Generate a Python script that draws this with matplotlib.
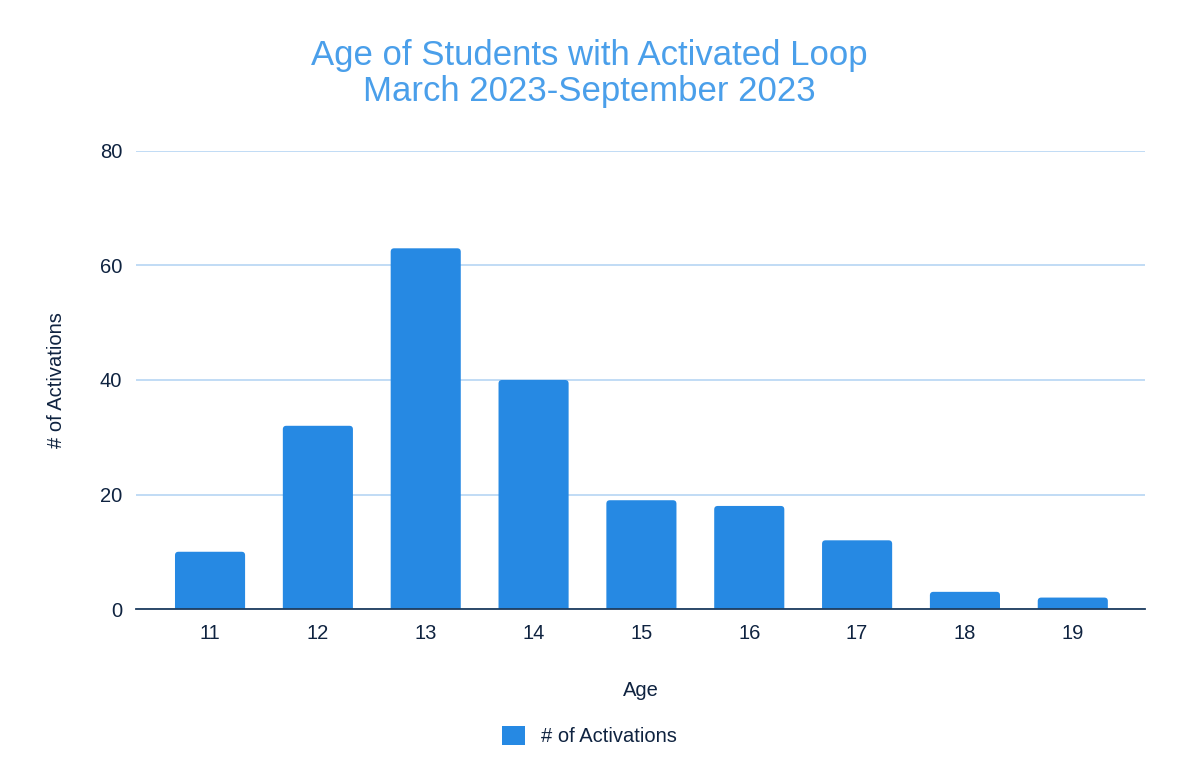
import matplotlib
matplotlib.use("Agg")
import matplotlib.pyplot as plt
from matplotlib.patches import FancyBboxPatch, Patch

ages = ["11", "12", "13", "14", "15", "16", "17", "18", "19"]
activations = [10, 32, 63, 40, 19, 18, 12, 3, 2]
y_ticks = [0, 20, 40, 60, 80]

title_color = "#4a9fea"
bar_color = "#2689e3"
text_color = "#0f2340"
grid_color = "#bcd9f4"

plt.rcParams["font.family"] = ["Liberation Sans", "DejaVu Sans"]

fig = plt.figure(figsize=(11.79, 7.83), dpi=100)
ax = fig.add_axes([0.1154, 0.2222, 0.9712 - 0.1154, 0.8072 - 0.2222])

x = list(range(len(ages)))
bars = ax.bar(x, activations, width=0.65, color=bar_color, zorder=3)

ax.set_xlim(-0.686, len(ages) - 1 + 0.67)
ax.set_ylim(0, 80)

# Replace the plain rectangles with slightly rounded ones (rounding kept
# circular in screen space by compensating for the axis aspect).
fig.canvas.draw()
bbox = ax.get_window_extent()
px_per_x = bbox.width / (ax.get_xlim()[1] - ax.get_xlim()[0])
px_per_y = bbox.height / (ax.get_ylim()[1] - ax.get_ylim()[0])
r_px = 3.5
for rect in bars:
    x0, w, h = rect.get_x(), rect.get_width(), rect.get_height()
    rect.set_visible(False)
    extra = 2 * r_px / px_per_y
    patch = FancyBboxPatch(
        (x0, -extra), w, h + extra,
        boxstyle=f"round,pad=0,rounding_size={r_px / px_per_x}",
        mutation_aspect=px_per_x / px_per_y,
        facecolor=bar_color, edgecolor="none", zorder=3, clip_on=True,
    )
    ax.add_patch(patch)

ax.set_yticks(y_ticks)
ax.set_xticks(x)
ax.set_xticklabels(ages)
ax.yaxis.grid(True, color=grid_color, linewidth=1.3, zorder=0)
ax.xaxis.grid(False)
for s in ["top", "right", "left"]:
    ax.spines[s].set_visible(False)
ax.spines["bottom"].set_color("#1e3c5e")
ax.spines["bottom"].set_linewidth(1.3)
ax.spines["bottom"].set_zorder(4)
ax.tick_params(axis="both", length=0, labelsize=14.5, colors=text_color)
ax.tick_params(axis="y", pad=10)
ax.tick_params(axis="x", pad=11)

ax.set_xlabel("Age", fontsize=14.5, color=text_color, labelpad=27)
ax.set_ylabel("# of Activations", fontsize=14.5, color=text_color, labelpad=24)

fig.text(0.5, 0.906, "Age of Students with Activated Loop\nMarch 2023-September 2023",
         ha="center", va="center", fontsize=25, color=title_color, linespacing=1.1)

handle = Patch(facecolor=bar_color, edgecolor="none")
fig.legend([handle], ["# of Activations"], loc="center", bbox_to_anchor=(0.5, 0.06),
           frameon=False, fontsize=14.5, labelcolor=text_color,
           handlelength=1.1, handleheight=1.1, handletextpad=0.8)

fig.savefig("out.png", dpi=100, facecolor="white")
